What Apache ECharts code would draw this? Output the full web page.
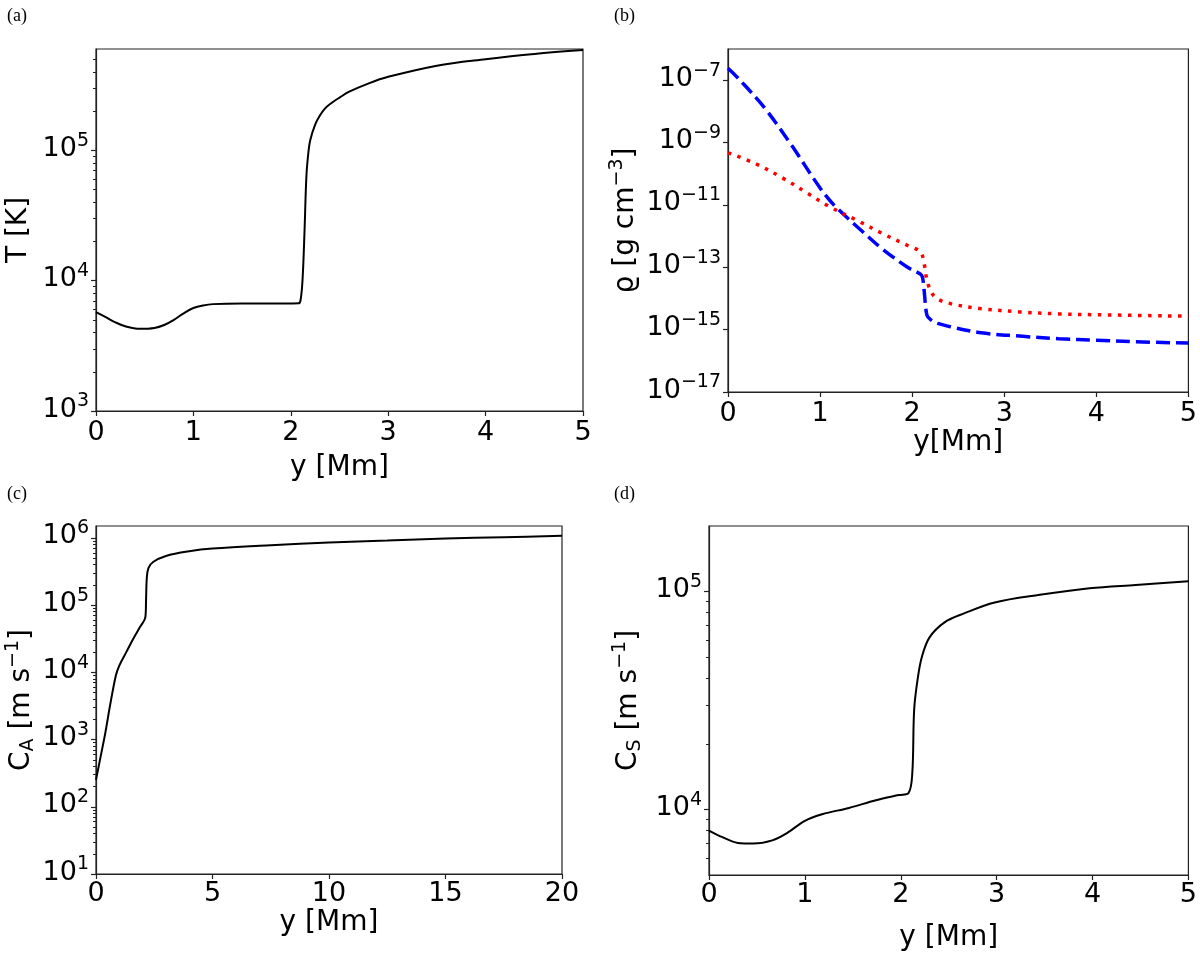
<!DOCTYPE html>
<html>
<head>
<meta charset="utf-8">
<script src="https://cdn.jsdelivr.net/npm/echarts@6/dist/echarts.min.js"></script>
<style>
html,body{margin:0;padding:0;background:#fff;}
#c{width:1200px;height:953px;}
</style>
</head>
<body>
<div id="c"></div>
<script>
// ---------- data ----------
// (a) temperature T [K] vs height y [Mm]
const yT = [0, 0.1, 0.2, 0.3, 0.45, 0.6, 0.7, 0.8, 0.9, 1.0, 1.1, 1.2, 1.5, 1.8, 2.0, 2.08, 2.1, 2.12, 2.14, 2.16, 2.18, 2.2, 2.25, 2.3, 2.35, 2.4, 2.5, 2.6, 2.8, 3.0, 3.5, 4.0, 4.5, 5.0];
const tempK = [5750, 5250, 4790, 4470, 4270, 4335, 4570, 5010, 5620, 6170, 6460, 6610, 6680, 6680, 6690, 6700, 7080, 10000, 22900, 63100, 95500, 120000, 158000, 186000, 209000, 226000, 254000, 282000, 327000, 367000, 447000, 501000, 550000, 589000];

// (b) density [g cm^-3] vs y [Mm]: blue dashed and red dotted
const yRhoBlue = [0, 0.13, 0.4, 0.67, 1.0, 1.15, 1.46, 1.67, 1.95, 2.08, 2.11, 2.13, 2.16, 2.2, 2.28, 2.42, 2.75, 3.17, 3.59, 4.0, 4.42, 5.0];
const rhoBlue = [2.4e-7, 1.0e-7, 1.26e-8, 1.0e-9, 3.5e-11, 1.0e-11, 1.4e-12, 4.0e-13, 1.0e-13, 6.3e-14, 5.0e-14, 1.8e-14, 2.9e-15, 2.1e-15, 1.58e-15, 1.23e-15, 7.9e-16, 6.2e-16, 5.1e-16, 4.6e-16, 4.1e-16, 3.7e-16];
const yRhoRed = [0, 0.3, 0.6, 0.85, 1.1, 1.4, 1.7, 1.95, 2.09, 2.13, 2.17, 2.25, 2.42, 2.75, 3.17, 3.59, 4.0, 5.0];
const rhoRed = [4.7e-10, 2.1e-10, 7.1e-11, 2.5e-11, 8.9e-12, 3.2e-12, 1.12e-12, 5.0e-13, 3.1e-13, 1.3e-13, 3.0e-14, 1.1e-14, 6.8e-15, 4.7e-15, 3.7e-15, 3.2e-15, 3.0e-15, 2.7e-15];

// (c) Alfven speed C_A [m s^-1] vs y [Mm]
const yCA = [0, 0.2, 0.4, 0.6, 0.85, 1.0, 1.3, 1.6, 1.9, 2.12, 2.15, 2.18, 2.25, 2.45, 3.0, 4.0, 5.0, 7.5, 10, 12.5, 15, 17.5, 20];
const alfvenSpeed = [251, 562, 1259, 3162, 8913, 12590, 19950, 31620, 47860, 66070, 125900, 251200, 354800, 436500, 537000, 631000, 692000, 776000, 851000, 912000, 977000, 1023000, 1072000];

// (d) sound speed C_S [m s^-1] vs y [Mm]
const yCS = [0, 0.14, 0.3, 0.46, 0.66, 0.82, 1.0, 1.18, 1.46, 1.74, 1.98, 2.08, 2.12, 2.14, 2.18, 2.22, 2.3, 2.46, 2.66, 2.98, 3.45, 3.97, 4.45, 5.0];
const soundSpeed = [8000, 7460, 7020, 6970, 7210, 7820, 8870, 9510, 10160, 11020, 11640, 11890, 14590, 28840, 40740, 50120, 61660, 72440, 79430, 89130, 96600, 103500, 107200, 111400];

// axis limits (data units) and tick labels (decade exponents)
const tRange = [1e3, 6e5];
const rhoRange = [1e-17, 1e-6];
const caRange = [10, 1.5e6];
const csRange = [5e3, 2e5];
const tExps = [3, 4, 5];
const rhoExps = [-17, -15, -13, -11, -9, -7];
const caExps = [1, 2, 3, 4, 5, 6];
const csExps = [4, 5];
const xTicks5 = [0, 1, 2, 3, 4, 5];
const xTicks20 = [0, 5, 10, 15, 20];

// ---------- helpers ----------
const FONT = 'DejaVu Sans';
const lg = Math.log10;
const RICH = {
  b: {fontFamily: FONT, fontSize: 27, lineHeight: 30, padding: [0, 0, 3, 0], verticalAlign: 'bottom', color: '#000'},
  p: {fontFamily: FONT, fontSize: 19, lineHeight: 20, padding: [0, 0, 15, 0], verticalAlign: 'bottom', color: '#000'}
};
const RICH_N = {
  b: {fontFamily: FONT, fontSize: 28, lineHeight: 31, padding: [0, 0, 3, 0], verticalAlign: 'bottom', color: '#000'},
  p: {fontFamily: FONT, fontSize: 19, lineHeight: 20, padding: [0, 0, 16, 0], verticalAlign: 'bottom', color: '#000'},
  d: {fontFamily: FONT, fontSize: 19, lineHeight: 20, padding: [0, 0, 1, 0], verticalAlign: 'bottom', color: '#000'}
};
function expLabel(v) {
  const n = Math.round(v);
  const s = n < 0 ? '\u2212' + (-n) : String(n);
  return '{b|10}{p|' + s + '}';
}
function minorTicks(range) {
  const lo = lg(range[0]), hi = lg(range[1]);
  const out = [];
  for (let n = Math.floor(lo) - 1; n <= Math.ceil(hi); n++) {
    for (let k = 2; k <= 9; k++) {
      const v = lg(k) + n;
      if (v > lo + 1e-9 && v < hi - 1e-9) out.push(v);
    }
  }
  return out;
}
function pairs(xs, vs) { return xs.map((x, i) => [x, lg(vs[i])]); }

const AXCOL = '#222';
function xAxis(grid, ticks, name, nameGap, margin) {
  return {
    type: 'value', gridIndex: grid, min: ticks[0], max: ticks[ticks.length - 1],
    interval: ticks[1] - ticks[0],
    name: name, nameLocation: 'middle', nameGap: nameGap,
    nameTextStyle: {fontFamily: FONT, fontSize: 28, color: '#000'},
    axisLine: {show: true, onZero: false, lineStyle: {color: AXCOL, width: 1.2}},
    axisTick: {show: true, length: 5, lineStyle: {color: AXCOL, width: 1.2}},
    axisLabel: {fontFamily: FONT, fontSize: 27, color: '#000', margin: margin},
    splitLine: {show: false}
  };
}
function yAxis(grid, range, exps, name, nameGap) {
  return {
    type: 'value', gridIndex: grid, min: lg(range[0]), max: lg(range[1]),
    name: name, nameLocation: 'middle', nameGap: nameGap, nameRotate: 90,
    nameTextStyle: {rich: RICH_N, fontFamily: FONT, fontSize: 28, color: '#000'},
    axisLine: {show: true, onZero: false, lineStyle: {color: AXCOL, width: 1.2}},
    axisTick: {show: true, length: 5, customValues: exps, lineStyle: {color: AXCOL, width: 1.2}},
    axisLabel: {customValues: exps, formatter: expLabel, rich: RICH, margin: 7},
    splitLine: {show: false}
  };
}
function yMinor(grid, range) {
  return {
    type: 'value', gridIndex: grid, position: 'left', min: lg(range[0]), max: lg(range[1]),
    axisLine: {show: false},
    axisTick: {show: true, length: 3, customValues: minorTicks(range), lineStyle: {color: AXCOL, width: 1}},
    axisLabel: {show: false},
    splitLine: {show: false}
  };
}

const gridStyle = {show: true, borderColor: AXCOL, borderWidth: 1.2, backgroundColor: 'transparent', containLabel: false};
const titleStyle = {fontFamily: 'Liberation Serif', fontSize: 18, fontWeight: 'normal', color: '#000'};

const option = {
  animation: false,
  backgroundColor: '#fff',
  title: [
    {text: '(a)', left: 7, top: 7, padding: 0, textStyle: titleStyle},
    {text: '(b)', left: 614, top: 7, padding: 0, textStyle: titleStyle},
    {text: '(c)', left: 7, top: 485, padding: 0, textStyle: titleStyle},
    {text: '(d)', left: 614, top: 485, padding: 0, textStyle: titleStyle}
  ],
  grid: [
    Object.assign({left: 96, top: 49, width: 487, height: 362}, gridStyle),
    Object.assign({left: 728, top: 49, width: 462, height: 343}, gridStyle),
    Object.assign({left: 96, top: 526, width: 466, height: 348}, gridStyle),
    Object.assign({left: 709, top: 526, width: 480, height: 358}, gridStyle)
  ],
  xAxis: [
    xAxis(0, xTicks5, 'y [Mm]', 43, 8),
    xAxis(1, xTicks5, 'y[Mm]', 37, 8),
    xAxis(2, xTicks20, 'y [Mm]', 35, 6),
    xAxis(3, xTicks5, 'y [Mm]', 49, 6)
  ],
  yAxis: [
    yAxis(0, tRange, tExps, '{b|T [K]}', 60),
    yAxis(1, rhoRange, rhoExps, '{b|\u03f1 [g cm}{p|\u22123}{b|]}', 82),
    yAxis(2, caRange, caExps, '{b|C}{d|A}{b| [m s}{p|\u22121}{b|]}', 57),
    yAxis(3, csRange, csExps, '{b|C}{d|S}{b| [m s}{p|\u22121}{b|]}', 63),
    yMinor(0, tRange),
    yMinor(2, caRange),
    yMinor(3, csRange)
  ],
  series: [
    {type: 'line', xAxisIndex: 0, yAxisIndex: 0, data: pairs(yT, tempK), showSymbol: false,
     smooth: 0.35, lineStyle: {color: '#000', width: 2}},
    {type: 'line', xAxisIndex: 1, yAxisIndex: 1, data: pairs(yRhoBlue, rhoBlue), showSymbol: false,
     smooth: 0.35, lineStyle: {color: '#0000ff', width: 3.5, type: [14, 6]}},
    {type: 'line', xAxisIndex: 1, yAxisIndex: 1, data: pairs(yRhoRed, rhoRed), showSymbol: false,
     smooth: 0.35, lineStyle: {color: '#ff0000', width: 3.5, type: [3.5, 6.5]}},
    {type: 'line', xAxisIndex: 2, yAxisIndex: 2, data: pairs(yCA, alfvenSpeed), showSymbol: false,
     smooth: 0.35, lineStyle: {color: '#000', width: 2}},
    {type: 'line', xAxisIndex: 3, yAxisIndex: 3, data: pairs(yCS, soundSpeed), showSymbol: false,
     smooth: 0.35, lineStyle: {color: '#000', width: 2}}
  ]
};

const chart = echarts.init(document.getElementById('c'), null, {renderer: 'canvas'});
chart.setOption(option);
</script>
</body>
</html>
